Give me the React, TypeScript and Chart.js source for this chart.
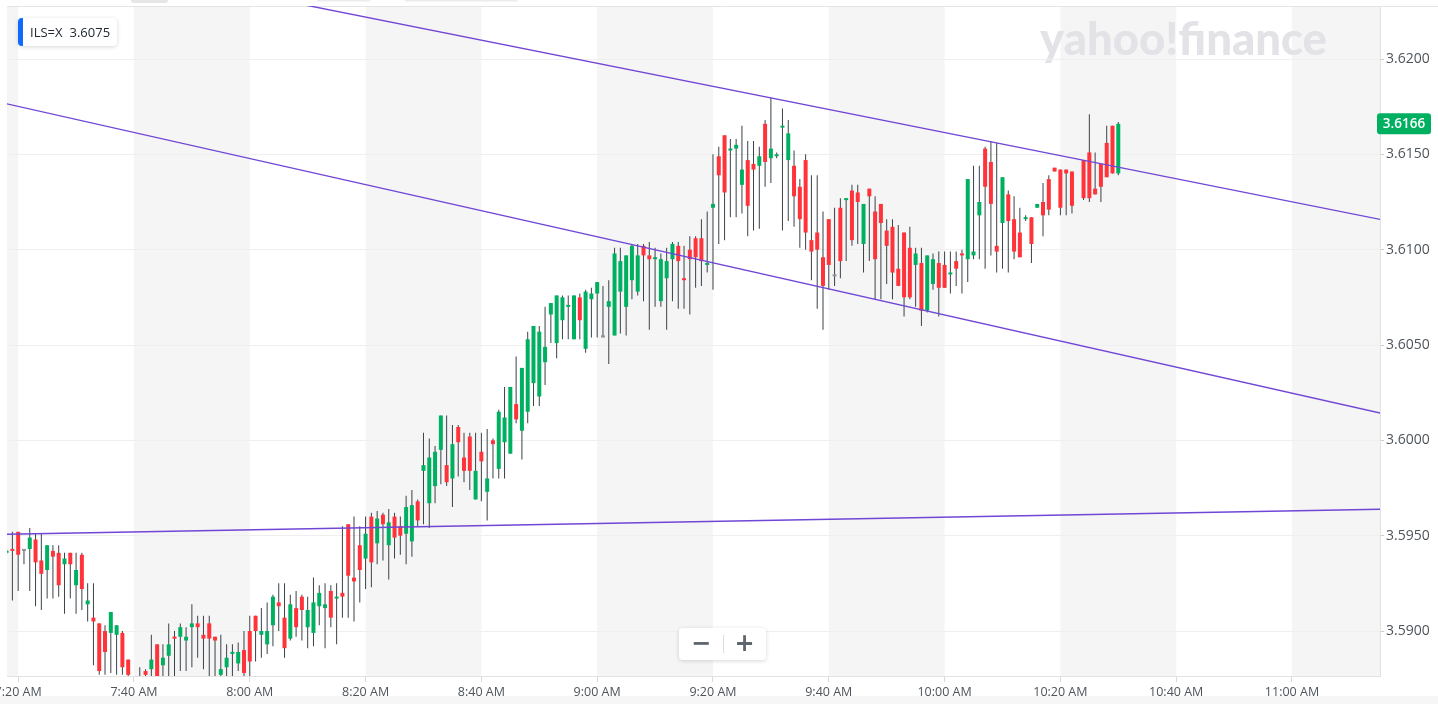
import React, { useEffect, useRef } from "react";
import { Chart, registerables } from "chart.js";

Chart.register(...registerables);

// ---------- DATA (1-minute candles, ILS=X) ----------
const times = [
  "7:18","7:19","7:20","7:21","7:22","7:23","7:24","7:25","7:26","7:27","7:28","7:29","7:30","7:31","7:32","7:33","7:34","7:35","7:36","7:37","7:38","7:39",
  "7:41","7:42","7:43","7:44","7:45","7:46","7:47","7:48","7:49","7:50","7:51","7:52","7:53","7:54","7:55","7:56","7:57","7:58","7:59",
  "8:00","8:01","8:02","8:03","8:04","8:05","8:06","8:07","8:08","8:09","8:10","8:11","8:12","8:13","8:14","8:15","8:16","8:17","8:18","8:19",
  "8:20","8:21","8:22","8:23","8:24","8:25","8:26","8:27","8:28","8:29","8:30","8:31","8:32","8:33","8:34","8:35","8:36","8:37","8:38","8:39",
  "8:40","8:41","8:42","8:43","8:44","8:45","8:46","8:47","8:48","8:49","8:50","8:51","8:52","8:53","8:54","8:55","8:56","8:57","8:58","8:59",
  "9:00","9:01","9:02","9:03","9:04","9:05","9:06","9:07","9:08","9:09","9:10","9:11","9:12","9:13","9:14","9:15","9:16","9:17","9:18","9:19",
  "9:20","9:21","9:22","9:23","9:24","9:25","9:26","9:27","9:28","9:29","9:30","9:31","9:32","9:33","9:34","9:35","9:36","9:37","9:38","9:39",
  "9:40","9:41","9:42","9:43","9:44","9:45","9:46","9:47","9:48","9:49","9:50","9:51","9:52","9:53","9:54","9:55","9:56","9:57","9:58","9:59",
  "10:00","10:01","10:02","10:03","10:04","10:05","10:06","10:07","10:08","10:09","10:10","10:11","10:12","10:13","10:14","10:15","10:16","10:17","10:18","10:19","10:20","10:21","10:22",
  "10:24","10:25","10:26","10:27","10:28","10:29","10:30",
];

const opens = [
  3.5941,3.5943,3.5952,3.5942,3.5943,3.5948,3.5937,3.5932,3.5942,3.5941,3.5935,3.5941,3.5924,3.5940,3.5914,3.5907,3.5904,3.5900,3.5899,3.5898,3.5899,3.5885,
  3.5874,3.5879,3.5880,3.5893,3.5882,3.5887,3.5897,3.5897,3.5895,3.5902,3.5904,3.5898,3.5904,3.5897,3.5877,3.5881,3.5888,3.5883,3.5890,
  3.5900,3.5908,3.5898,3.5893,3.5903,3.5915,3.5907,3.5896,3.5912,3.5918,3.5902,3.5899,3.5913,3.5912,3.5921,3.5917,3.5920,3.5956,3.5928,3.5945,
  3.5938,3.5960,3.5946,3.5961,3.5945,3.5960,3.5955,3.5951,3.5947,3.5968,3.5984,3.5967,3.5976,3.5995,3.5987,3.5980,3.6007,3.5991,3.6002,3.5969,
  3.5994,3.5973,3.6000,3.5985,3.5999,3.5993,3.6019,3.6005,3.6015,3.6030,3.6023,3.6041,3.6066,3.6051,3.6063,3.6070,3.6053,3.6075,3.6048,3.6074,
  3.6077,3.6054,3.6070,3.6055,3.6078,3.6070,3.6084,3.6078,3.6102,3.6097,3.6095,3.6073,3.6085,3.6095,3.6102,3.6085,3.6100,3.6106,3.6106,3.6092,
  3.6122,3.6149,3.6160,3.6152,3.6153,3.6134,3.6147,3.6145,3.6144,3.6166,3.6148,3.6149,3.6164,3.6147,3.6144,3.6133,3.6147,3.6105,3.6109,3.6096,
  3.6116,3.6086,3.6122,3.6126,3.6131,3.6130,3.6103,3.6132,3.6120,3.6124,3.6110,3.6112,3.6090,3.6109,3.6101,3.6092,3.6093,3.6068,3.6082,3.6093,
  3.6092,3.6087,3.6094,3.6098,3.6095,3.6097,3.6118,3.6153,3.6146,3.6102,3.6114,3.6129,3.6116,3.6109,3.6116,3.6117,3.6122,3.6125,3.6137,3.6143,3.6142,3.6142,3.6141,
  3.6147,3.6151,3.6132,3.6145,3.6156,3.6165,3.6140,
];

const highs = [
  3.5943,3.5952,3.5952,3.5943,3.5954,3.5951,3.5951,3.5945,3.5945,3.5945,3.5941,3.5941,3.5941,3.5941,3.5925,3.5925,3.5904,3.5903,3.5910,3.5903,3.5900,3.5885,
  3.5881,3.5880,3.5898,3.5893,3.5893,3.5904,3.5900,3.5904,3.5902,3.5914,3.5908,3.5908,3.5908,3.5897,3.5898,3.5893,3.5893,3.5894,3.5900,
  3.5908,3.5908,3.5912,3.5915,3.5919,3.5925,3.5925,3.5919,3.5921,3.5919,3.5918,3.5928,3.5924,3.5925,3.5924,3.5925,3.5955,3.5956,3.5960,3.5955,
  3.5960,3.5962,3.5963,3.5962,3.5964,3.5962,3.5960,3.5971,3.5974,3.5969,3.6004,3.6001,3.5997,3.6013,3.6013,3.6008,3.6008,3.6004,3.6004,3.6004,
  3.6004,3.6006,3.6001,3.6016,3.6028,3.6028,3.6044,3.6038,3.6057,3.6060,3.6060,3.6070,3.6072,3.6076,3.6076,3.6076,3.6076,3.6077,3.6079,3.6080,
  3.6083,3.6081,3.6084,3.6101,3.6101,3.6097,3.6103,3.6103,3.6103,3.6104,3.6101,3.6098,3.6101,3.6104,3.6104,3.6102,3.6107,3.6107,3.6116,3.6120,
  3.6150,3.6154,3.6160,3.6158,3.6158,3.6165,3.6157,3.6157,3.6154,3.6168,3.6180,3.6151,3.6174,3.6168,3.6152,3.6137,3.6150,3.6139,3.6139,3.6120,
  3.6116,3.6122,3.6127,3.6127,3.6134,3.6134,3.6124,3.6132,3.6128,3.6124,3.6116,3.6116,3.6113,3.6109,3.6112,3.6101,3.6101,3.6097,3.6098,3.6099,
  3.6099,3.6099,3.6099,3.6100,3.6137,3.6144,3.6144,3.6154,3.6157,3.6156,3.6138,3.6131,3.6128,3.6122,3.6118,3.6117,3.6124,3.6135,3.6139,3.6143,3.6142,3.6142,3.6141,
  3.6147,3.6171,3.6151,3.6145,3.6165,3.6165,3.6167,
];

const lows = [
  3.5940,3.5916,3.5921,3.5935,3.5921,3.5913,3.5911,3.5917,3.5917,3.5918,3.5909,3.5917,3.5909,3.5911,3.5905,3.5882,3.5877,3.5877,3.5878,3.5877,3.5877,3.5876,
  3.5866,3.5872,3.5874,3.5870,3.5874,3.5875,3.5875,3.5879,3.5879,3.5881,3.5886,3.5880,3.5876,3.5876,3.5875,3.5876,3.5876,3.5879,3.5876,
  3.5876,3.5884,3.5886,3.5888,3.5892,3.5900,3.5886,3.5895,3.5897,3.5895,3.5891,3.5892,3.5903,3.5891,3.5902,3.5893,3.5907,3.5907,3.5905,3.5915,
  3.5922,3.5923,3.5935,3.5937,3.5927,3.5938,3.5940,3.5935,3.5939,3.5955,3.5956,3.5954,3.5967,3.5977,3.5976,3.5965,3.5981,3.5978,3.5974,3.5969,
  3.5968,3.5958,3.5980,3.5980,3.5980,3.5993,3.6009,3.5990,3.6009,3.6018,3.6018,3.6029,3.6051,3.6043,3.6053,3.6053,3.6053,3.6053,3.6046,3.6054,
  3.6054,3.6054,3.6040,3.6055,3.6056,3.6055,3.6074,3.6076,3.6073,3.6058,3.6070,3.6070,3.6058,3.6073,3.6069,3.6069,3.6066,3.6080,3.6081,3.6088,
  3.6079,3.6103,3.6105,3.6117,3.6117,3.6119,3.6107,3.6110,3.6111,3.6133,3.6135,3.6148,3.6110,3.6115,3.6112,3.6101,3.6100,3.6084,3.6069,3.6058,
  3.6079,3.6081,3.6085,3.6094,3.6102,3.6103,3.6088,3.6094,3.6074,3.6074,3.6082,3.6074,3.6081,3.6065,3.6074,3.6070,3.6060,3.6067,3.6079,3.6065,
  3.6080,3.6077,3.6081,3.6077,3.6083,3.6095,3.6095,3.6090,3.6097,3.6088,3.6090,3.6088,3.6095,3.6096,3.6115,3.6093,3.6122,3.6107,3.6118,3.6141,3.6118,3.6118,3.6119,
  3.6126,3.6125,3.6129,3.6125,3.6138,3.6140,3.6139,
];

const closes = [
  3.5942,3.5942,3.5940,3.5942,3.5949,3.5936,3.5930,3.5945,3.5939,3.5924,3.5938,3.5935,3.5932,3.5922,3.5916,3.5905,3.5879,3.5889,3.5910,3.5903,3.5881,3.5877,
  3.5871,3.5877,3.5885,3.5874,3.5886,3.5893,3.5896,3.5902,3.5897,3.5904,3.5902,3.5896,3.5896,3.5895,3.5880,3.5886,3.5889,3.5889,3.5878,
  3.5884,3.5900,3.5900,3.5900,3.5918,3.5913,3.5891,3.5914,3.5902,3.5911,3.5911,3.5915,3.5920,3.5914,3.5907,3.5918,3.5918,3.5929,3.5926,3.5932,
  3.5951,3.5936,3.5959,3.5956,3.5957,3.5949,3.5950,3.5965,3.5966,3.5958,3.5987,3.5991,3.5994,3.6013,3.5978,3.5998,3.5999,3.5984,3.5984,3.5984,
  3.5989,3.5980,3.5998,3.6015,3.6012,3.6028,3.6011,3.6038,3.6053,3.6060,3.6057,3.6049,3.6072,3.6076,3.6075,3.6071,3.6076,3.6063,3.6078,3.6077,
  3.6083,3.6054,3.6073,3.6098,3.6094,3.6097,3.6102,3.6097,3.6097,3.6095,3.6096,3.6095,3.6094,3.6103,3.6094,3.6084,3.6095,3.6096,3.6094,3.6093,
  3.6124,3.6139,3.6130,3.6153,3.6155,3.6142,3.6123,3.6142,3.6149,3.6146,3.6153,3.6150,3.6165,3.6161,3.6128,3.6116,3.6109,3.6099,3.6100,3.6081,
  3.6092,3.6086,3.6094,3.6127,3.6105,3.6125,3.6124,3.6128,3.6095,3.6114,3.6102,3.6088,3.6081,3.6075,3.6075,3.6098,3.6068,3.6097,3.6095,3.6080,
  3.6080,3.6088,3.6090,3.6097,3.6137,3.6099,3.6125,3.6133,3.6124,3.6099,3.6138,3.6115,3.6099,3.6096,3.6117,3.6103,3.6124,3.6118,3.6121,3.6141,3.6122,3.6140,3.6123,
  3.6127,3.6127,3.6129,3.6133,3.6138,3.6140,3.6166,
];

const xTickTimes = ["7:20","7:40","8:00","8:20","8:40","9:00","9:20","9:40","10:00","10:20","10:40","11:00"];
const yTickValues = [3.5900, 3.5950, 3.6000, 3.6050, 3.6100, 3.6150, 3.6200];
const shadedPeriods = [["7:00","7:20"],["7:40","8:00"],["8:20","8:40"],["9:00","9:20"],["9:40","10:00"],["10:20","10:40"],["11:00","11:20"]];
const trendStartTimes = ["8:00", "7:17", "7:17"];
const trendStartValues = [3.62341, 3.61772, 3.59507];
const trendEndTimes = ["11:16", "11:16", "11:16"];
const trendEndValues = [3.61154, 3.60138, 3.59639];
const quoteSymbol = "ILS=X";
const quotePrice = "3.6075";
const watermarkText = "yahoo!finance";

// ---------- view / style ----------
const X_MIN = 438.07;
const X_MAX = 675.2;
const Y_MIN = 3.58764;
const Y_MAX = 3.62278;
const GREEN = "#00b061";
const RED = "#ff333a";
const DOJI = "#8d949b";
const WICK = "#3b4248";
const PURPLE = "#7046d6";
const TEXT = "#4d545b";

const toMin = (t: string) => {
  const [h, m] = t.split(":").map(Number);
  return h * 60 + m;
};
const fmtTime = (v: number) => {
  const h = Math.floor(v / 60);
  const m = Math.round(v - h * 60);
  const hh = h % 12 === 0 ? 12 : h % 12;
  return `${hh}:${String(m).padStart(2, "0")} ${h >= 12 ? "PM" : "AM"}`;
};

function rr(ctx: CanvasRenderingContext2D, x: number, y: number, w: number, h: number, r: number) {
  ctx.beginPath();
  ctx.moveTo(x + r, y);
  ctx.lineTo(x + w - r, y);
  ctx.quadraticCurveTo(x + w, y, x + w, y + r);
  ctx.lineTo(x + w, y + h - r);
  ctx.quadraticCurveTo(x + w, y + h, x + w - r, y + h);
  ctx.lineTo(x + r, y + h);
  ctx.quadraticCurveTo(x, y + h, x, y + h - r);
  ctx.lineTo(x, y + r);
  ctx.quadraticCurveTo(x, y, x + r, y);
  ctx.closePath();
}

const backgroundPlugin = {
  id: "bgBands",
  beforeDraw(chart: any) {
    const { ctx, chartArea, scales, width, height } = chart;
    const xs = scales.x;
    ctx.save();
    ctx.fillStyle = "#ffffff";
    ctx.fillRect(0, 0, width, height);
    // alternating shaded periods
    ctx.fillStyle = "#f5f5f5";
    shadedPeriods.forEach(([s, e]) => {
      let x1 = xs.getPixelForValue(toMin(s));
      let x2 = xs.getPixelForValue(toMin(e));
      x1 = Math.max(x1, chartArea.left);
      x2 = Math.min(x2, chartArea.right);
      if (x2 > x1) ctx.fillRect(x1, chartArea.top, x2 - x1, chartArea.bottom - chartArea.top);
    });
    // bottom strip
    ctx.fillStyle = "#f6f6f6";
    ctx.fillRect(0, 696, width, height - 696);
    // top border
    ctx.strokeStyle = "#e4e4e4";
    ctx.lineWidth = 1;
    ctx.beginPath();
    ctx.moveTo(chartArea.left, chartArea.top + 0.5);
    ctx.lineTo(width, chartArea.top + 0.5);
    ctx.stroke();
    // cut-off UI pieces at the very top
    ctx.fillStyle = "#e6e6e6";
    rr(ctx, 131, -4, 37, 7, 3);
    ctx.fill();
    ctx.fillStyle = "#ececec";
    ctx.fillRect(317, 0, 53, 1.5);
    ctx.fillRect(405, 0, 113, 1.5);
    // watermark
    ctx.fillStyle = "#e2e2e7";
    ctx.font = '900 46px Lato, "DejaVu Sans", sans-serif';
    ctx.textAlign = "left";
    ctx.textBaseline = "alphabetic";
    ctx.fillText(watermarkText, 1040, 55, 287);
    ctx.restore();
  },
  afterDraw(chart: any) {
    const { ctx, scales } = chart;
    const last = closes[closes.length - 1];
    const y = scales.y.getPixelForValue(last);
    ctx.save();
    ctx.fillStyle = GREEN;
    rr(ctx, 1377, y - 10.5, 54, 21, 3);
    ctx.fill();
    ctx.fillStyle = "#ffffff";
    ctx.font = '600 13.5px "Open Sans", sans-serif';
    ctx.textAlign = "center";
    ctx.textBaseline = "middle";
    ctx.fillText(last.toFixed(4), 1404, y + 0.5);
    ctx.restore();
  },
};

export default function App() {
  const canvasRef = useRef<HTMLCanvasElement | null>(null);

  useEffect(() => {
    const canvas = canvasRef.current;
    if (!canvas) return;

    const xs = times.map(toMin);
    const bodyColors = opens.map((o, i) =>
      closes[i] > o ? GREEN : closes[i] < o ? RED : DOJI
    );

    const trendSets = trendStartTimes.map((t, i) => ({
      type: "line" as const,
      data: [
        { x: toMin(t), y: trendStartValues[i] },
        { x: toMin(trendEndTimes[i]), y: trendEndValues[i] },
      ],
      borderColor: PURPLE,
      borderWidth: 1.4,
      pointRadius: 0,
      fill: false,
      tension: 0,
      clip: 0,
    }));

    const chart = new Chart(canvas, {
      type: "bar",
      data: {
        datasets: [
          ...trendSets,
          {
            type: "bar",
            data: xs.map((x, i) => ({ x, y: [opens[i], closes[i]] })),
            backgroundColor: bodyColors,
            barThickness: 4,
            minBarLength: 2,
            grouped: false,
            borderWidth: 0,
            inflateAmount: 0,
            clip: 0,
          } as any,
          {
            type: "bar",
            data: xs.map((x, i) => ({ x, y: [lows[i], highs[i]] })),
            backgroundColor: WICK,
            barThickness: 1,
            grouped: false,
            borderWidth: 0,
            inflateAmount: 0,
            clip: 0,
          } as any,
        ],
      },
      options: {
        responsive: false,
        animation: false,
        events: [],
        layout: { padding: { left: 7, top: 6, right: 0, bottom: 0 } },
        plugins: {
          legend: { display: false },
          tooltip: { enabled: false },
        },
        scales: {
          x: {
            type: "linear",
            position: "bottom",
            min: X_MIN,
            max: X_MAX,
            bounds: "data",
            offset: false,
            afterBuildTicks: (s: any) => {
              s.ticks = xTickTimes.map((t) => ({ value: toMin(t) }));
            },
            afterFit: (s: any) => {
              s.height = 28;
              s.paddingLeft = 0;
              s.paddingRight = 0;
            },
            ticks: {
              autoSkip: false,
              maxRotation: 0,
              minRotation: 0,
              padding: 3,
              color: TEXT,
              font: { family: '"Open Sans", sans-serif', size: 12.5 },
              callback: (v: any) => fmtTime(Number(v)),
            },
            grid: {
              offset: false,
              drawOnChartArea: false,
              drawTicks: true,
              tickLength: 6,
              tickColor: "#d9d9d9",
            },
            border: { display: true, color: "#e2e2e2" },
          },
          y: {
            type: "linear",
            position: "right",
            min: Y_MIN,
            max: Y_MAX,
            bounds: "data",
            afterBuildTicks: (s: any) => {
              s.ticks = yTickValues.map((v) => ({ value: v }));
            },
            afterFit: (s: any) => {
              s.width = 58;
              s.paddingTop = 0;
              s.paddingBottom = 0;
            },
            ticks: {
              padding: 2,
              color: TEXT,
              font: { family: '"Open Sans", sans-serif', size: 14 },
              callback: (v: any) => Number(v).toFixed(4),
            },
            grid: {
              color: "#efefef",
              drawTicks: true,
              tickLength: 4,
              tickColor: "#cfcfcf",
            },
            border: { display: true, color: "#e2e2e2" },
          },
        },
      } as any,
      plugins: [backgroundPlugin],
    });

    return () => chart.destroy();
  }, []);

  return (
    <div
      style={{
        position: "absolute",
        left: 0,
        top: 0,
        width: 1438,
        height: 704,
        overflow: "hidden",
        background: "#fff",
      }}
    >
      <canvas ref={canvasRef} width={1438} height={704} style={{ display: "block" }} />
      <div
        style={{
          position: "absolute",
          left: 18,
          top: 18,
          width: 99,
          height: 28,
          background: "#fff",
          borderRadius: 4,
          boxShadow: "0 1px 4px rgba(0,0,0,0.16)",
          overflow: "hidden",
          fontFamily: '"Open Sans", sans-serif',
          fontSize: 13,
          color: "#232a31",
          lineHeight: "28px",
          whiteSpace: "nowrap",
        }}
      >
        <div style={{ position: "absolute", left: 0, top: 0, width: 5, height: 28, background: "#0f69ff" }} />
        <span style={{ position: "absolute", left: 12 }}>
          {quoteSymbol}
          <span style={{ marginLeft: 7 }}>{quotePrice}</span>
        </span>
      </div>
      <div
        style={{
          position: "absolute",
          left: 679,
          top: 628,
          width: 87,
          height: 32,
          background: "#fff",
          borderRadius: 4,
          boxShadow: "0 1px 4px rgba(0,0,0,0.16)",
          fontFamily: '"DejaVu Sans", sans-serif',
          fontWeight: 700,
          fontSize: 24,
          color: "#5f666d",
        }}
      >
        <span style={{ position: "absolute", left: 0, width: 44, top: 0, lineHeight: "31px", textAlign: "center" }}>−</span>
        <div style={{ position: "absolute", left: 44, top: 7, width: 1, height: 18, background: "#dcdcdc" }} />
        <span style={{ position: "absolute", left: 44, width: 43, top: 0, lineHeight: "31px", textAlign: "center" }}>+</span>
      </div>
    </div>
  );
}
